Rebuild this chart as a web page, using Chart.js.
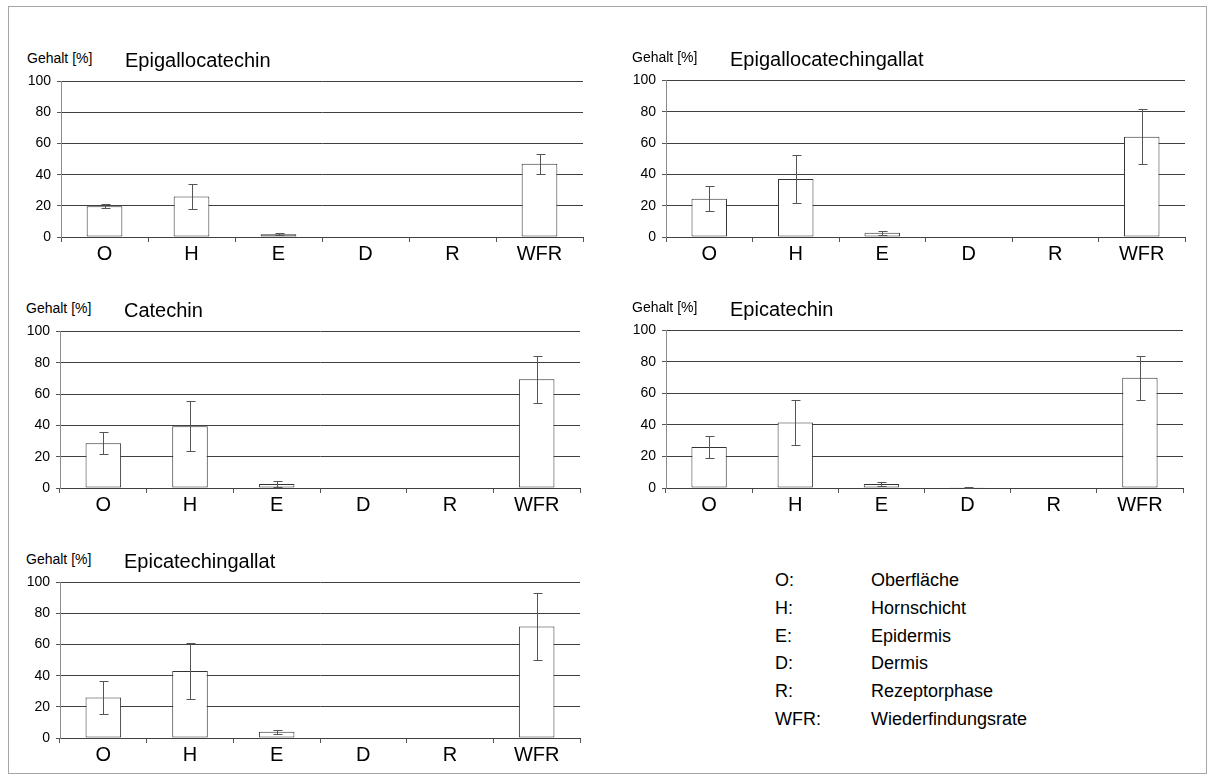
<!DOCTYPE html>
<html>
<head>
<meta charset="utf-8">
<script src="https://cdn.jsdelivr.net/npm/chart.js@4.4.1/dist/chart.umd.min.js"></script>
<style>
  body { margin: 0; background: #fff; font-family: "Liberation Sans", Arial, sans-serif; color: #000; }
  #rahmen { position: absolute; left: 8px; top: 6px; width: 1197px; height: 766px; border: 1px solid #a6a6a6; }
  canvas { position: absolute; }
  .txt { position: absolute; line-height: 1; white-space: nowrap; }
</style>
</head>
<body>
<div id="rahmen"></div>
<div id="seite"></div>
<script>
  // Kategorien und Achse
  const kategorien = ['O', 'H', 'E', 'D', 'R', 'WFR'];
  const yWerte = [0, 20, 40, 60, 80, 100];

  // Mittelwerte und Standardabweichungen [%]
  const egc = [19.8, 26, 1.7, 0, 0, 47];
  const egcFehler = [1.2, 8, 0.7, 0, 0, 6.5];
  const egcg = [24.5, 37, 2.7, 0, 0, 64];
  const egcgFehler = [8, 15.5, 1.3, 0, 0, 17.5];
  const cat = [28.5, 39.5, 2.5, 0, 0, 69.5];
  const catFehler = [7, 16, 2, 0, 0, 15];
  const ec = [26, 41.5, 2.5, 0.4, 0, 70];
  const ecFehler = [6.7, 14.5, 1.3, 0.2, 0, 14];
  const ecg = [26, 43, 4, 0, 0, 71.7];
  const ecgFehler = [10.5, 18, 1.3, 0, 0, 21.5];

  const titel = ['Epigallocatechin', 'Epigallocatechingallat', 'Catechin', 'Epicatechin', 'Epicatechingallat'];
  const abkuerzungen = ['O:', 'H:', 'E:', 'D:', 'R:', 'WFR:'];
  const bedeutungen = ['Oberfläche', 'Hornschicht', 'Epidermis', 'Dermis', 'Rezeptorphase', 'Wiederfindungsrate'];

  // Lage der Diagrammflächen
  const felder = [
    { links: 61, rechts: 583, oben: 77, unten: 237 },
    { links: 666, rechts: 1185, oben: 76, unten: 237 },
    { links: 60, rechts: 580, oben: 327, unten: 488 },
    { links: 666, rechts: 1183, oben: 326, unten: 488 },
    { links: 60, rechts: 580, oben: 578, unten: 738 }
  ];
  const reihen = [[egc, egcFehler], [egcg, egcgFehler], [cat, catFehler], [ec, ecFehler], [ecg, ecgFehler]];

  const seite = document.getElementById('seite');
  function text(inhalt, x, y, groesse) {
    const d = document.createElement('div');
    d.className = 'txt';
    d.style.left = x + 'px';
    d.style.top = (y - groesse / 2) + 'px';
    d.style.fontSize = groesse + 'px';
    d.textContent = inhalt;
    seite.appendChild(d);
  }

  const fehlerbalken = {
    id: 'fehlerbalken',
    afterDatasetsDraw(chart) {
      const ctx = chart.ctx;
      const y = chart.scales.y;
      const ds = chart.data.datasets[0];
      ctx.save();
      ctx.strokeStyle = '#555';
      ctx.lineWidth = 1;
      chart.getDatasetMeta(0).data.forEach((bar, i) => {
        const f = ds.fehler[i];
        if (!f) return;
        const v = ds.data[i];
        const x = Math.round(bar.x) + 0.5;
        const o = Math.round(y.getPixelForValue(v + f)) + 0.5;
        const u = Math.round(y.getPixelForValue(Math.max(v - f, 0))) + 0.5;
        ctx.beginPath();
        ctx.moveTo(x, o); ctx.lineTo(x, u);
        ctx.moveTo(x - 4, o); ctx.lineTo(x + 5, o);
        ctx.moveTo(x - 4, u); ctx.lineTo(x + 5, u);
        ctx.stroke();
      });
      ctx.restore();
    }
  };

  felder.forEach((f, n) => {
    const cv = document.createElement('canvas');
    const breite = f.rechts - f.links + 60;
    const hoehe = f.unten - f.oben + 44;
    cv.width = breite;
    cv.height = hoehe;
    cv.style.left = (f.links - 50) + 'px';
    cv.style.top = (f.oben - 10) + 'px';
    seite.appendChild(cv);

    text('Gehalt [%]', f.links - 34, f.oben - 19, 14);
    text(titel[n], f.links + 64, f.oben - 17, 20);

    new Chart(cv, {
      type: 'bar',
      data: {
        labels: kategorien,
        datasets: [{
          data: reihen[n][0],
          fehler: reihen[n][1],
          backgroundColor: '#fff',
          borderColor: '#333',
          borderWidth: 1,
          borderSkipped: false,
          barPercentage: 1,
          categoryPercentage: 0.41
        }]
      },
      options: {
        responsive: false,
        animation: false,
        layout: { padding: { left: 10, right: 10, top: 10, bottom: 4 } },
        plugins: { legend: { display: false }, tooltip: { enabled: false } },
        scales: {
          x: {
            afterFit: s => { s.height = 30; },
            grid: {
              color: c => c.index === kategorien.length ? '#8c8c8c' : 'rgba(0,0,0,0)',
              tickColor: '#555',
              tickLength: 5
            },
            border: { color: '#404040' },
            ticks: { color: '#000', padding: 0, font: { family: 'Liberation Sans', size: 20 } }
          },
          y: {
            min: 0,
            max: 100,
            afterFit: s => { s.width = 40; },
            afterBuildTicks: s => { s.ticks = yWerte.map(v => ({ value: v })); },
            grid: { color: '#404040', tickColor: '#555', tickLength: 4 },
            border: { color: '#8c8c8c' },
            ticks: { color: '#000', padding: 6, font: { family: 'Liberation Sans', size: 14 } }
          }
        }
      },
      plugins: [fehlerbalken]
    });
  });

  // Legende der Abkürzungen
  abkuerzungen.forEach((a, i) => {
    text(a, 775, 580 + i * 27.8, 18);
    text(bedeutungen[i], 871, 580 + i * 27.8, 18);
  });
</script>
</body>
</html>
